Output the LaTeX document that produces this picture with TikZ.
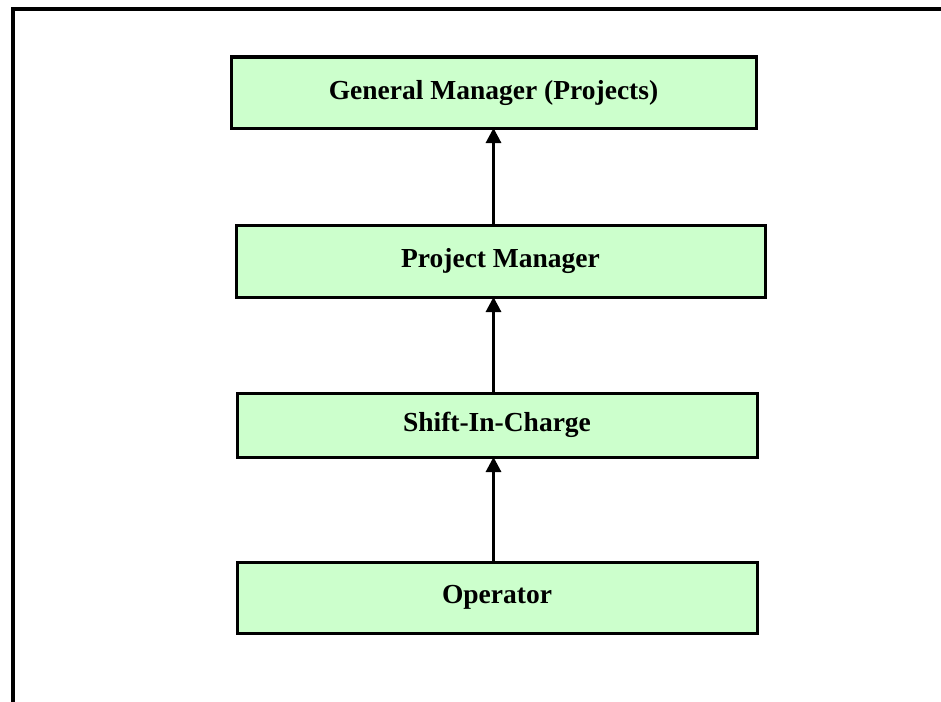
\documentclass[tikz,border=0pt]{standalone}
\usepackage{fontspec}
\setmainfont{Liberation Serif}
\usepackage{xcolor}
\definecolor{mygreen}{HTML}{CCFFCC}
\usepackage{tikz}
\usetikzlibrary{positioning,arrows.meta}
\tikzstyle{block} = [rectangle, draw, fill=mygreen, align=center, line width=3pt, inner sep=0pt, outer sep=0pt,
font=\fontsize{27.5}{33}\selectfont\bfseries]
\tikzstyle{line} = [draw, line width=3pt, -{Triangle[length=15pt,width=15pt]}]

\begin{document}
\begin{tikzpicture}[x=1pt, y=-1pt]
    \useasboundingbox (0,0) rectangle (941,701);
    % frame
    \draw[line width=4pt] (13,705) -- (13,9) -- (945,9);

    % Nodes
    \node [block, minimum width=525pt, minimum height=71pt] (gm) at (493.5,92.5) {General Manager (Projects)};
    \node [block, minimum width=529pt, minimum height=72pt, below=97pt of gm, xshift=7pt] (pm) {Project Manager};
    \node [block, minimum width=520pt, minimum height=64pt, below=96pt of pm, xshift=-3.5pt] (sic) {Shift-In-Charge};
    \node [block, minimum width=520pt, minimum height=71pt, below=105pt of sic] (op) {Operator};

    % arrows
    \draw[line] (pm.north -| gm.south) -- (gm.south);
    \draw[line] (sic.north -| gm.south) -- (pm.south -| gm.south);
    \draw[line] (op.north -| gm.south) -- (sic.south -| gm.south);
\end{tikzpicture}
\end{document}
